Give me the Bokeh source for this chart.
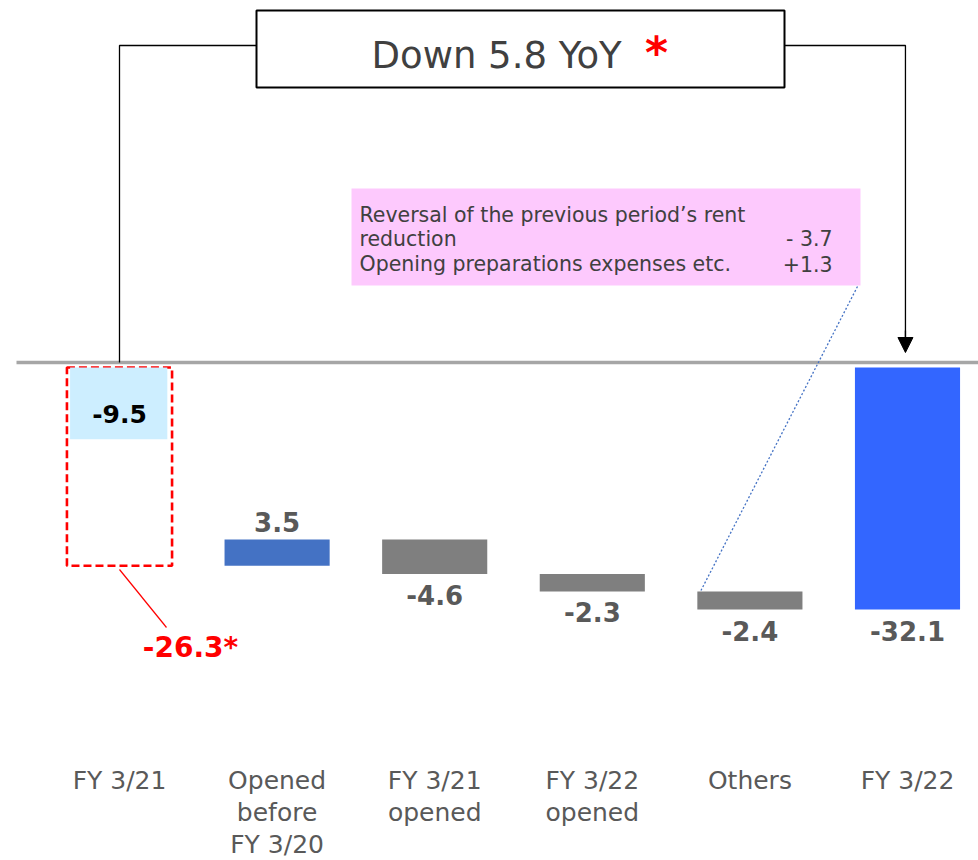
from bokeh.plotting import figure
from bokeh.models import Range1d, Arrow, NormalHead
from bokeh.core.properties import value
from bokeh.embed import file_html
from bokeh.resources import INLINE

# ---- data -------------------------------------------------------------
categories = ["FY 3/21", "Opened\nbefore\nFY 3/20", "FY 3/21\nopened",
              "FY 3/22\nopened", "Others", "FY 3/22"]
start_total = -26.3
step_changes = [3.5, -4.6, -2.3, -2.4]
end_total = -32.1
rent_part = -9.5
yoy_text = "Down 5.8 YoY"
note_lines = ["Reversal of the previous period\u2019s rent", "reduction",
              "Opening preparations expenses etc."]
note_values = ["", "- 3.7", "+1.3"]

# ---- layout -------------------------------------------------------------
W, H = 978, 860
X0, DX = 119.0, 157.6       # pixel centre of first column, column pitch
Y0, KY = 367.0, 7.54        # pixel row of zero, pixels per unit
BAR_W = 0.667

def px(x):
    return (x - X0) / DX

def py(y):
    return (Y0 - y) / KY

FONT = value("DejaVu Sans")
GREY_TXT = "#595959"

p = figure(width=W, height=H, output_backend="svg", toolbar_location=None,
           x_range=Range1d(px(0), px(W)), y_range=Range1d(py(H), py(0)),
           min_border=0)
p.axis.visible = False
p.xgrid.visible = False
p.ygrid.visible = False
p.outline_line_color = None
p.background_fill_color = "white"

n = len(categories)
xs = list(range(n))

# zero line
p.segment(x0=px(16), y0=py(362), x1=px(W), y1=py(362),
          line_color="#a6a6a6", line_width=3.5)

# FY 3/21: dashed outline of the total, shaded rent portion
p.quad(left=[0 - BAR_W / 2], right=[0 + BAR_W / 2], top=[0], bottom=[start_total],
       fill_color=None, line_color="#ff0000", line_width=2.6, line_dash="8 4")
p.quad(left=[0 - BAR_W / 2 + 0.02], right=[0 + BAR_W / 2 - 0.03], top=[0],
       bottom=[rent_part], fill_color="#cdeeff", line_color=None)
p.text(x=[0], y=[0], text=[f"{rent_part:.1f}"], text_font=FONT,
       text_font_style="bold", text_font_size="25px", text_color="black",
       text_align="center", text_baseline="middle", y_offset=46)

# step bars of the waterfall
lefts, rights, tops, bottoms, colors = [], [], [], [], []
running = start_total
for i, ch in enumerate(step_changes, start=1):
    lo, hi = sorted([running, running + ch])
    lefts.append(i - BAR_W / 2)
    rights.append(i + BAR_W / 2)
    tops.append(hi)
    bottoms.append(lo)
    colors.append("#4472c4" if ch > 0 else "#7f7f7f")
    running += ch
p.quad(left=lefts, right=rights, top=tops, bottom=bottoms,
       fill_color=colors, line_color=None)

# closing bar
p.quad(left=[n - 1 - BAR_W / 2], right=[n - 1 + BAR_W / 2], top=[0],
       bottom=[end_total], fill_color="#3366ff", line_color=None)

# value labels
pos_x = [i for i, ch in zip(range(1, n - 1), step_changes) if ch > 0]
pos_y = [t for t, ch in zip(tops, step_changes) if ch > 0]
pos_t = [f"{ch:.1f}" for ch in step_changes if ch > 0]
neg_x = [i for i, ch in zip(range(1, n - 1), step_changes) if ch < 0] + [n - 1]
neg_y = [b for b, ch in zip(bottoms, step_changes) if ch < 0] + [end_total]
neg_t = [f"{ch:.1f}" for ch in step_changes if ch < 0] + [f"{end_total:.1f}"]
p.text(x=pos_x, y=pos_y, text=pos_t, text_font=FONT, text_font_style="bold",
       text_font_size="26px", text_color=GREY_TXT, text_align="center",
       text_baseline="middle", y_offset=-17)
p.text(x=neg_x, y=neg_y, text=neg_t, text_font=FONT, text_font_style="bold",
       text_font_size="26px", text_color=GREY_TXT, text_align="center",
       text_baseline="middle", y_offset=21)

# FY 3/21 total with leader line
p.segment(x0=px(119), y0=py(569), x1=px(166), y1=py(627),
          line_color="#ff0000", line_width=1.2)
p.text(x=[0], y=[start_total], text=[f"{start_total:.1f}*"], text_font=FONT,
       text_font_style="bold", text_font_size="28px", text_color="#ff0000",
       text_align="center", text_baseline="middle", x_offset=71, y_offset=82)

# category labels, one row per line
lab_x, lab_y, lab_t = [], [], []
for i, cat in enumerate(categories):
    for j, part in enumerate(cat.split("\n")):
        lab_x.append(i)
        lab_y.append(py(780 + 32 * j))
        lab_t.append(part)
p.text(x=lab_x, y=lab_y, text=lab_t, text_font=FONT,
       text_font_size="25px", text_color=GREY_TXT, text_align="center",
       text_baseline="middle")

# YoY bracket: title box with connectors
p.multi_line(xs=[[0, 0, px(256)], [px(784), n - 1 - 0.013, n - 1 - 0.013]],
             ys=[[py(362), py(45), py(45)], [py(45), py(45), py(345)]],
             line_color="black", line_width=1.3)
p.add_layout(Arrow(end=NormalHead(size=15, fill_color="black", line_color="black"),
                   x_start=n - 1 - 0.013, y_start=py(330), x_end=n - 1 - 0.013,
                   y_end=py(352), line_color="black", line_width=1.3))
p.quad(left=[px(256)], right=[px(784)], top=[py(10)], bottom=[py(87)],
       fill_color="white", line_color="black", line_width=2)
p.text(x=[px(371)], y=[py(55)], text=[yoy_text], text_font=FONT,
       text_font_size="37px", text_color="#404040", text_align="left",
       text_baseline="middle")
p.text(x=[px(656)], y=[py(52)], text=["*"], text_font=FONT, text_font_style="bold",
       text_font_size="44px", text_color="#ff0000", text_align="center",
       text_baseline="middle")

# note box for the FY 3/21 opened stores / others
p.quad(left=[px(351)], right=[px(860)], top=[py(188)], bottom=[py(285)],
       fill_color="#fdc9fd", line_color=None)
line_rows = [py(214), py(238), py(263)]
p.text(x=[px(359)] * 3, y=line_rows, text=note_lines, text_font=FONT,
       text_font_size="20.5px", text_color="#404040", text_align="left",
       text_baseline="middle")
p.text(x=[px(832)] * 3, y=line_rows, text=note_values, text_font=FONT,
       text_font_size="20.5px", text_color="#404040", text_align="right",
       text_baseline="middle")
p.segment(x0=px(857), y0=py(286), x1=4 - BAR_W / 2 + 0.02, y1=tops[3],
          line_color="#4472c4", line_width=1.3, line_dash="2 2")

open("out.html", "w").write(file_html(p, INLINE))
